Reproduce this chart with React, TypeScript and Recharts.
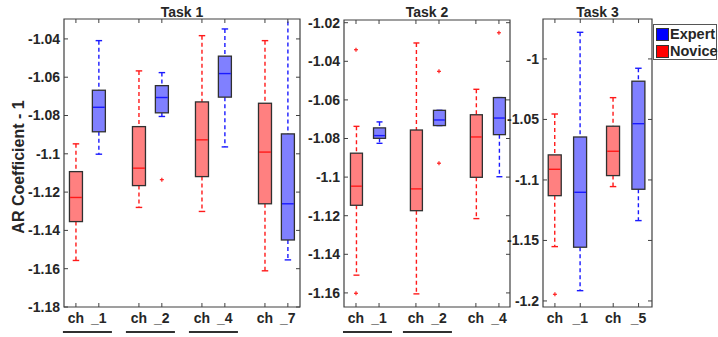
import React from "react";
import { ComposedChart, Bar, Scatter, XAxis, YAxis, ReferenceArea } from "recharts";

// stats per box: [lower whisker, q1, median, q3, upper whisker]
const task1Channels = ["_1", "_2", "_4", "_7"];
const task1Novice = [
  [-1.1557, -1.1354, -1.1228, -1.1093, -1.0948],
  [-1.128, -1.1166, -1.1075, -1.0858, -1.0567],
  [-1.1301, -1.1119, -1.0927, -1.0729, -1.0383],
  [-1.1611, -1.1261, -1.0991, -1.0736, -1.0409],
];
const task1Expert = [
  [-1.1002, -1.0885, -1.0757, -1.0668, -1.0409],
  [-1.0805, -1.0786, -1.0706, -1.0644, -1.0576],
  [-1.0964, -1.0704, -1.0581, -1.049, -1.0348],
  [-1.1554, -1.145, -1.1261, -1.0896, -1.02],
];
const task1Outliers = [{ channel: "_2", kind: "Expert", value: -1.1135 }];
const task1Underlined = ["_1", "_2", "_4"];
const task1Ticks = [-1.18, -1.16, -1.14, -1.12, -1.1, -1.08, -1.06, -1.04];

const task2Channels = ["_1", "_2", "_4"];
const task2Novice = [
  [-1.1508, -1.1146, -1.1047, -1.0876, -1.0737],
  [-1.1605, -1.1174, -1.1061, -1.0756, -1.0305],
  [-1.1215, -1.1001, -1.0792, -1.0677, -1.0545],
];
const task2Expert = [
  [-1.0825, -1.0799, -1.0785, -1.0745, -1.0714],
  [-1.0733, -1.0733, -1.0704, -1.0654, -1.0654],
  [-1.0998, -1.078, -1.0694, -1.0588, -1.0588],
];
const task2Outliers = [
  { channel: "_1", kind: "Novice", value: -1.034 },
  { channel: "_1", kind: "Novice", value: -1.1602 },
  { channel: "_2", kind: "Expert", value: -1.0452 },
  { channel: "_2", kind: "Expert", value: -1.0928 },
  { channel: "_4", kind: "Expert", value: -1.0252 },
];
const task2Underlined = ["_1", "_2"];
const task2Ticks = [-1.16, -1.14, -1.12, -1.1, -1.08, -1.06, -1.04, -1.02];

const task3Channels = ["_1", "_5"];
const task3Novice = [
  [-1.1551, -1.113, -1.0912, -1.0793, -1.0455],
  [-1.1055, -1.0964, -1.0763, -1.0556, -1.032],
];
const task3Expert = [
  [-1.1915, -1.1556, -1.1102, -1.0645, -0.978],
  [-1.1336, -1.1077, -1.0535, -1.0184, -1.0077],
];
const task3Outliers = [{ channel: "_1", kind: "Novice", value: -1.1945 }];
const task3Underlined: string[] = [];
const task3Ticks = [-1.2, -1.15, -1.1, -1.05, -1];

const groups = [
  { name: "Expert", fill: "#8080ff", line: "#1a1aff", key: "#0000ff" },
  { name: "Novice", fill: "#ff8080", line: "#ff1a1a", key: "#ff0000" },
];

const FONT = "'Liberation Sans', Arial, Helvetica, sans-serif";
const INK = "#262626";
const FRAME = "#404040";
const H = 337;

function makeRows(channels: string[], novice: number[][], expert: number[][], gap: number) {
  const toRow = (s: number[], pos: number, kind: string, label: string) => ({
    pos, kind, label, lo: s[0], q1: s[1], med: s[2], q3: s[3], hi: s[4],
  });
  return channels.flatMap((ch, i) => [
    toRow(novice[i], i * gap, "Novice", "ch"),
    toRow(expert[i], i * gap + 1, "Expert", ch),
  ]);
}

function makeOutliers(channels: string[], list: { channel: string; kind: string; value: number }[], gap: number) {
  return list.map((o) => ({
    pos: channels.indexOf(o.channel) * gap + (o.kind === "Expert" ? 1 : 0),
    value: o.value,
  }));
}

const panels = [
  {
    title: "Task 1", left: 0, width: 305, plotLeft: 64, plotRight: 300, top: 19, bottom: 307,
    yAxisW: 60, gap: 2.75, barSize: 13, xDomain: [-0.52, 9.78], yDomain: [-1.18, -1.0296],
    ticks: task1Ticks, channels: task1Channels, novice: task1Novice, expert: task1Expert,
    outliers: task1Outliers, underlined: task1Underlined, yLabel: "AR Coefficient - 1",
  },
  {
    title: "Task 2", left: 305, width: 210, plotLeft: 344, plotRight: 510, top: 20, bottom: 307,
    yAxisW: 36, gap: 2.6, barSize: 12, xDomain: [-0.52, 6.68], yDomain: [-1.1673, -1.0186],
    ticks: task2Ticks, channels: task2Channels, novice: task2Novice, expert: task2Expert,
    outliers: task2Outliers, underlined: task2Underlined, yLabel: "",
  },
  {
    title: "Task 3", left: 505, width: 213, plotLeft: 543, plotRight: 652, top: 19, bottom: 307,
    yAxisW: 36, gap: 2.3, barSize: 13, xDomain: [-0.47, 3.83], yDomain: [-1.205, -0.967],
    ticks: task3Ticks, channels: task3Channels, novice: task3Novice, expert: task3Expert,
    outliers: task3Outliers, underlined: task3Underlined, yLabel: "",
  },
];

function BoxShape(props: any) {
  const { x, y, width, height, payload: d } = props;
  const top = Math.min(y, y + height);
  const bot = Math.max(y, y + height);
  const px = (v: number) => top + ((d.hi - v) / (d.hi - d.lo)) * (bot - top);
  const g = groups.find((k) => k.name === d.kind)!;
  const cx = x + width / 2;
  const yq3 = px(d.q3);
  const yq1 = px(d.q1);
  const ym = px(d.med);
  const cap = width * 0.25;
  return (
    <g>
      <line x1={cx} x2={cx} y1={top} y2={yq3} stroke={g.line} strokeWidth={1.4} strokeDasharray="4 3" />
      <line x1={cx} x2={cx} y1={yq1} y2={bot} stroke={g.line} strokeWidth={1.4} strokeDasharray="4 3" />
      <line x1={cx - cap} x2={cx + cap} y1={top} y2={top} stroke={g.line} strokeWidth={1.4} />
      <line x1={cx - cap} x2={cx + cap} y1={bot} y2={bot} stroke={g.line} strokeWidth={1.4} />
      <rect x={x} y={yq3} width={width} height={Math.max(yq1 - yq3, 0.5)} fill={g.fill} stroke="#303030" strokeWidth={1.3} />
      <line x1={x + 0.6} x2={x + width - 0.6} y1={ym} y2={ym} stroke={g.line} strokeWidth={1.4} />
    </g>
  );
}

function PlusShape(props: any) {
  const { cx, cy } = props;
  return (
    <g stroke="#ff2020" strokeWidth={1.2}>
      <line x1={cx - 2} x2={cx + 2} y1={cy} y2={cy} />
      <line x1={cx} x2={cx} y1={cy - 2} y2={cy + 2} />
    </g>
  );
}

function Panel({ p }: { p: (typeof panels)[number] }) {
  const rows = makeRows(p.channels, p.novice, p.expert, p.gap);
  const outliers = makeOutliers(p.channels, p.outliers, p.gap);
  const plotH = p.bottom - p.top;
  const plotW = p.plotRight - p.plotLeft;

  const xTick = (t: any) => {
    const { x, y, payload } = t;
    const row = rows.find((r) => Math.abs(r.pos - payload.value) < 1e-6);
    if (!row) return <g />;
    const channel = p.channels[Math.round((row.pos - (row.kind === "Expert" ? 1 : 0)) / p.gap)];
    const under = row.kind === "Novice" && p.underlined.includes(channel);
    return (
      <g>
        <line x1={x} x2={x} y1={y} y2={y - 4} stroke={FRAME} />
        <line x1={x} x2={x} y1={y - plotH} y2={y - plotH + 4} stroke={FRAME} />
        <text x={x} y={y + 6} dy="0.71em" textAnchor="middle" fontSize={14} fontWeight="bold" fontFamily={FONT} fill={INK}>
          {row.label}
        </text>
        {under && <line x1={x - 13} x2={x + 36} y1={y + 25} y2={y + 25} stroke="#303030" strokeWidth={2} />}
      </g>
    );
  };

  const yTick = (t: any) => {
    const { x, y, payload } = t;
    const ax = x + 4;
    return (
      <g>
        <line x1={ax} x2={ax + 4} y1={y} y2={y} stroke={FRAME} />
        <line x1={ax + plotW - 4} x2={ax + plotW} y1={y} y2={y} stroke={FRAME} />
        <text x={x} y={y} dy="0.355em" textAnchor="end" fontSize={14} fontWeight="bold" fontFamily={FONT} fill={INK}>
          {String(Number(payload.value.toFixed(2)))}
        </text>
      </g>
    );
  };

  const yLabel = (l: any) => {
    const vb = l.viewBox;
    const cx = vb.x + 14;
    const cy = vb.y + vb.height / 2 + 4;
    return (
      <text x={cx} y={cy} transform={`rotate(-90 ${cx} ${cy})`} textAnchor="middle" dominantBaseline="central"
        fontSize={16} fontWeight="bold" fontFamily={FONT} fill={INK}>
        {p.yLabel}
      </text>
    );
  };

  return (
    <div style={{ position: "absolute", left: p.left, top: 0, width: p.width, height: H }}>
      <ComposedChart
        width={p.width}
        height={H}
        data={rows}
        margin={{ top: p.top, bottom: 0, left: p.plotLeft - p.left - p.yAxisW, right: p.left + p.width - p.plotRight }}
        style={{ overflow: "visible" }}
      >
        <XAxis type="number" dataKey="pos" domain={p.xDomain} allowDataOverflow ticks={rows.map((r) => r.pos)}
          interval={0} height={H - p.bottom} axisLine={false} tickLine={false} tickSize={0} tickMargin={0} tick={xTick} />
        <YAxis type="number" domain={p.yDomain} allowDataOverflow ticks={p.ticks} interval={0} width={p.yAxisW}
          axisLine={false} tickLine={false} tickSize={0} tickMargin={4} tick={yTick}
          label={p.yLabel ? yLabel : undefined} />
        <ReferenceArea x1={p.xDomain[0]} x2={p.xDomain[1]} y1={p.yDomain[0]} y2={p.yDomain[1]}
          fill="none" stroke={FRAME} strokeWidth={1.2} ifOverflow="visible" />
        <Bar dataKey={(d: any) => [d.lo, d.hi]} barSize={p.barSize} shape={BoxShape} isAnimationActive={false} />
        <Scatter data={outliers} dataKey="value" shape={PlusShape} isAnimationActive={false} />
      </ComposedChart>
      <div style={{ position: "absolute", top: 4, left: p.plotLeft - p.left, width: plotW, textAlign: "center",
        fontSize: 14, lineHeight: "16px", fontWeight: "bold", fontFamily: FONT, color: INK }}>
        {p.title}
      </div>
    </div>
  );
}

export default function App() {
  return (
    <div style={{ position: "absolute", left: 0, top: 0, width: 718, height: H, background: "#fff", fontFamily: FONT }}>
      {panels.map((p) => (
        <Panel key={p.title} p={p} />
      ))}
      <div style={{ position: "absolute", left: 653, top: 24, width: 64, height: 36, border: "1px solid #555",
        background: "#fff", boxSizing: "border-box" }}>
        {groups.map((g, i) => (
          <div key={g.name} style={{ position: "absolute", left: 2, top: 2 + i * 17, height: 14, display: "flex", alignItems: "center" }}>
            <span style={{ display: "inline-block", width: 11, height: 11, background: g.key, border: "1px solid #333" }} />
            <span style={{ marginLeft: 1, fontSize: 14.5, fontWeight: "bold", color: INK, lineHeight: "14px" }}>{g.name}</span>
          </div>
        ))}
      </div>
    </div>
  );
}
